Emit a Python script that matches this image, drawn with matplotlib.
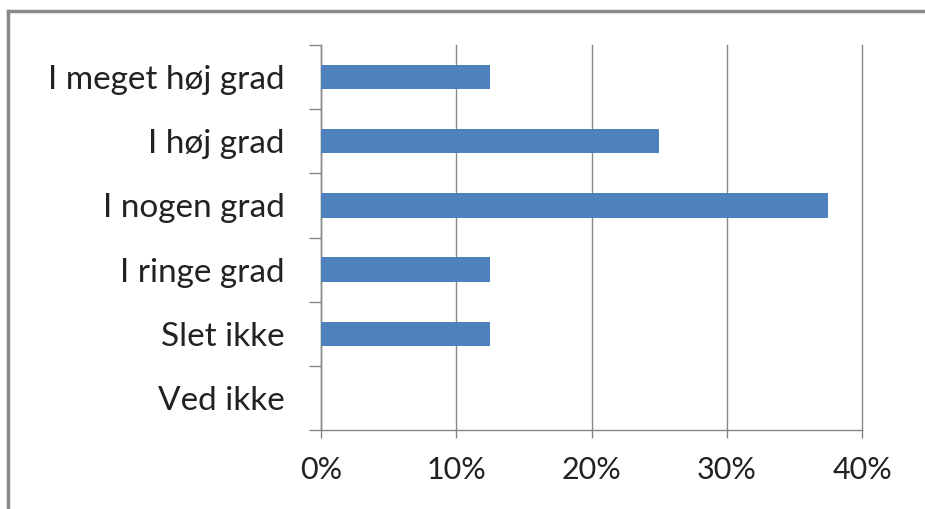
import matplotlib
matplotlib.use('Agg')
import matplotlib.pyplot as plt
from matplotlib.lines import Line2D
from matplotlib.ticker import FuncFormatter

plt.rcParams['font.family'] = ['Lato', 'DejaVu Sans']

categories = ['I meget høj grad', 'I høj grad', 'I nogen grad', 'I ringe grad', 'Slet ikke', 'Ved ikke']
shares = [12.5, 25.0, 37.5, 12.5, 12.5, 0.0]
x_ticks = [0, 10, 20, 30, 40]

grey = '#868686'

fig = plt.figure(figsize=(9.25, 5.09), dpi=100)
ax = fig.add_axes([0.347, 0.155, 0.585, 0.7566])

pos = list(range(len(categories)))
ax.barh(pos, shares, height=0.38, color='#4F81BD', zorder=3)

ax.set_xlim(0, 40)
ax.set_ylim(len(categories) - 0.5, -0.5)
ax.set_xticks(x_ticks)
ax.xaxis.set_major_formatter(FuncFormatter(lambda v, p: '{:.0f}%'.format(v)))
ax.set_yticks(pos)
ax.set_yticklabels(categories)
ax.set_yticks([p - 0.5 for p in pos] + [len(categories) - 0.5], minor=True)

ax.tick_params(axis='y', which='major', length=0, pad=26, labelsize=24, labelcolor='#222222')
ax.tick_params(axis='y', which='minor', length=9, width=1, color=grey)
ax.tick_params(axis='x', length=6, width=1, color=grey, pad=13, labelsize=22, labelcolor='#222222')

ax.grid(axis='x', color=grey, linewidth=1, zorder=0)
for gl in ax.get_xgridlines():
    gl.set_clip_on(False)
for side in ['top', 'right']:
    ax.spines[side].set_visible(False)
for side in ['left', 'bottom']:
    ax.spines[side].set_color(grey)
    ax.spines[side].set_linewidth(1)

# outer frame (only top and left edges are visible in the crop)
fig.add_artist(Line2D([0.0085, 1.0], [0.979, 0.979], color='#888888', linewidth=2.5))
fig.add_artist(Line2D([0.0085, 0.0085], [0.0, 0.979], color='#888888', linewidth=2.5))

fig.savefig('out.png', dpi=100)
